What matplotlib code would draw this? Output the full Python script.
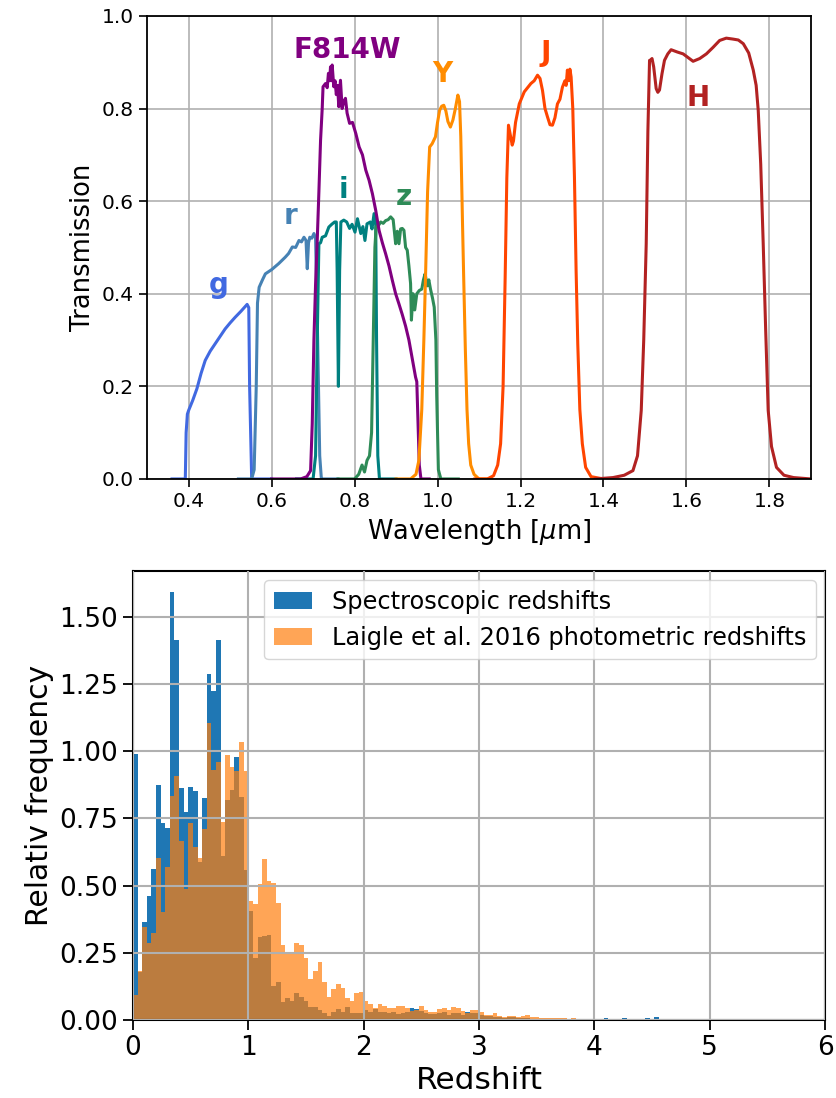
import numpy as np
import matplotlib
matplotlib.use("Agg")
import matplotlib.pyplot as plt

# ---- filter transmission curves (wavelength in micron, transmission) ----
g_wl = [0.36, 0.392, 0.394, 0.397, 0.400, 0.410, 0.420, 0.430, 0.440, 0.452, 0.464, 0.476, 0.488, 0.500, 0.512, 0.526, 0.541, 0.545, 0.547, 0.552, 0.60]
g_tr = [0.0, 0.0, 0.10, 0.14, 0.148, 0.170, 0.195, 0.228, 0.256, 0.276, 0.292, 0.308, 0.324, 0.337, 0.349, 0.362, 0.377, 0.37, 0.20, 0.0, 0.0]

r_wl = [0.52, 0.552, 0.558, 0.563, 0.566, 0.570, 0.578, 0.585, 0.600, 0.617, 0.625, 0.633, 0.641, 0.650, 0.658, 0.666, 0.672, 0.678, 0.683, 0.686, 0.689, 0.692, 0.697, 0.702, 0.706, 0.711, 0.716, 0.720, 0.725, 0.76]
r_tr = [0.0, 0.0, 0.02, 0.20, 0.38, 0.414, 0.43, 0.443, 0.452, 0.465, 0.472, 0.479, 0.487, 0.501, 0.50, 0.515, 0.512, 0.522, 0.515, 0.454, 0.51, 0.522, 0.52, 0.53, 0.52, 0.30, 0.05, 0.0, 0.0, 0.0]

i_wl = [0.66, 0.700, 0.706, 0.710, 0.714, 0.718, 0.722, 0.730, 0.738, 0.745, 0.752, 0.756, 0.758, 0.761, 0.764, 0.767, 0.774, 0.781, 0.788, 0.794, 0.801, 0.807, 0.815, 0.820, 0.825, 0.830, 0.838, 0.842, 0.847, 0.851, 0.853, 0.856, 0.860, 0.90]
i_tr = [0.0, 0.0, 0.05, 0.30, 0.508, 0.51, 0.522, 0.525, 0.544, 0.55, 0.555, 0.555, 0.45, 0.20, 0.45, 0.555, 0.559, 0.555, 0.541, 0.55, 0.533, 0.562, 0.53, 0.545, 0.515, 0.551, 0.555, 0.54, 0.573, 0.55, 0.30, 0.05, 0.0, 0.0]

z_wl = [0.76, 0.800, 0.810, 0.818, 0.824, 0.830, 0.836, 0.841, 0.845, 0.849, 0.852, 0.858, 0.863, 0.869, 0.875, 0.881, 0.887, 0.893, 0.899, 0.903, 0.907, 0.911, 0.915, 0.919, 0.923, 0.927, 0.931, 0.935, 0.937, 0.941, 0.945, 0.950, 0.956, 0.962, 0.966, 0.970, 0.975, 0.979, 0.983, 0.988, 0.992, 0.996, 0.998, 1.002, 1.008, 1.05]
z_tr = [0.0, 0.0, 0.01, 0.03, 0.015, 0.04, 0.05, 0.10, 0.30, 0.50, 0.544, 0.548, 0.555, 0.552, 0.558, 0.56, 0.566, 0.560, 0.508, 0.535, 0.508, 0.54, 0.541, 0.537, 0.50, 0.494, 0.46, 0.422, 0.343, 0.40, 0.365, 0.40, 0.407, 0.41, 0.43, 0.443, 0.417, 0.43, 0.41, 0.39, 0.371, 0.30, 0.18, 0.02, 0.0, 0.0]

f814_wl = [0.60, 0.670, 0.685, 0.694, 0.698, 0.702, 0.706, 0.710, 0.714, 0.718, 0.722, 0.724, 0.730, 0.734, 0.737, 0.740, 0.742, 0.744, 0.746, 0.748, 0.750, 0.753, 0.756, 0.759, 0.762, 0.766, 0.770, 0.774, 0.778, 0.782, 0.788, 0.795, 0.803, 0.811, 0.819, 0.827, 0.835, 0.843, 0.851, 0.859, 0.867, 0.875, 0.883, 0.891, 0.899, 0.907, 0.915, 0.923, 0.931, 0.939, 0.947, 0.950, 0.953, 0.956, 0.960, 0.98]
f814_tr = [0.0, 0.0, 0.005, 0.018, 0.12, 0.30, 0.42, 0.515, 0.62, 0.731, 0.80, 0.847, 0.854, 0.845, 0.876, 0.86, 0.89, 0.86, 0.894, 0.87, 0.847, 0.86, 0.83, 0.85, 0.804, 0.861, 0.80, 0.815, 0.822, 0.79, 0.768, 0.77, 0.746, 0.717, 0.70, 0.667, 0.645, 0.616, 0.58, 0.537, 0.51, 0.486, 0.46, 0.429, 0.40, 0.378, 0.355, 0.33, 0.30, 0.26, 0.22, 0.21, 0.12, 0.03, 0.0, 0.0]

y_wl = [0.90, 0.935, 0.948, 0.955, 0.962, 0.967, 0.971, 0.976, 0.981, 0.987, 0.995, 1.000, 1.005, 1.010, 1.015, 1.020, 1.025, 1.031, 1.037, 1.043, 1.049, 1.053, 1.056, 1.060, 1.063, 1.067, 1.071, 1.075, 1.080, 1.088, 1.10, 1.13]
y_tr = [0.0, 0.0, 0.01, 0.04, 0.15, 0.30, 0.436, 0.62, 0.717, 0.724, 0.739, 0.77, 0.796, 0.805, 0.807, 0.795, 0.772, 0.760, 0.775, 0.80, 0.829, 0.815, 0.74, 0.56, 0.436, 0.28, 0.15, 0.076, 0.03, 0.01, 0.0, 0.0]

j_wl = [1.09, 1.120, 1.135, 1.145, 1.152, 1.158, 1.163, 1.167, 1.171, 1.176, 1.180, 1.183, 1.188, 1.197, 1.209, 1.217, 1.225, 1.233, 1.241, 1.247, 1.253, 1.259, 1.265, 1.271, 1.277, 1.283, 1.289, 1.295, 1.301, 1.307, 1.310, 1.313, 1.316, 1.319, 1.322, 1.326, 1.330, 1.334, 1.338, 1.343, 1.349, 1.357, 1.37, 1.40]
j_tr = [0.0, 0.0, 0.007, 0.03, 0.076, 0.20, 0.436, 0.65, 0.764, 0.74, 0.721, 0.73, 0.77, 0.81, 0.836, 0.845, 0.854, 0.86, 0.872, 0.865, 0.839, 0.80, 0.782, 0.765, 0.764, 0.78, 0.81, 0.82, 0.846, 0.86, 0.85, 0.883, 0.86, 0.885, 0.868, 0.80, 0.652, 0.45, 0.292, 0.15, 0.076, 0.025, 0.005, 0.0]

h_wl = [1.38, 1.423, 1.450, 1.471, 1.482, 1.491, 1.497, 1.503, 1.507, 1.511, 1.514, 1.517, 1.521, 1.527, 1.531, 1.535, 1.541, 1.547, 1.555, 1.563, 1.578, 1.592, 1.604, 1.616, 1.632, 1.648, 1.664, 1.680, 1.696, 1.712, 1.725, 1.737, 1.750, 1.761, 1.768, 1.773, 1.779, 1.785, 1.791, 1.797, 1.805, 1.817, 1.835, 1.858, 1.90]
h_tr = [0.0, 0.003, 0.008, 0.018, 0.05, 0.148, 0.30, 0.508, 0.75, 0.904, 0.905, 0.908, 0.89, 0.843, 0.835, 0.84, 0.875, 0.904, 0.918, 0.927, 0.922, 0.918, 0.91, 0.902, 0.908, 0.918, 0.932, 0.947, 0.952, 0.95, 0.948, 0.94, 0.92, 0.883, 0.85, 0.796, 0.68, 0.508, 0.32, 0.148, 0.07, 0.025, 0.008, 0.003, 0.0]

filter_names = ["g", "r", "i", "z", "F814W", "Y", "J", "H"]
filter_colors = ["royalblue", "steelblue", "teal", "seagreen", "purple", "darkorange", "orangered", "firebrick"]
label_x = [0.472, 0.646, 0.772, 0.920, 0.782, 1.011, 1.260, 1.627]
label_y = [0.418, 0.567, 0.623, 0.610, 0.926, 0.874, 0.921, 0.822]

# ---- redshift histograms, bin width 0.04 starting at 0 ----
spec_freq = [0.99, 0.18, 0.366, 0.461, 0.562, 0.874, 0.734, 0.715, 1.592, 1.413,
             0.863, 0.773, 0.866, 0.852, 0.589, 0.826, 1.287, 1.224, 1.413, 0.61,
             0.818, 0.855, 0.978, 0.829, 0.558, 0.405, 0.232, 0.31, 0.312, 0.316,
             0.126, 0.143, 0.068, 0.083, 0.072, 0.099, 0.087, 0.072, 0.047, 0.05,
             0.037, 0.025, 0.015, 0.03, 0.04, 0.031, 0.05, 0.025, 0.025, 0.025,
             0.037, 0.03, 0.04, 0.03, 0.03, 0.025, 0.03, 0.022, 0.025, 0.03,
             0.043, 0.04, 0.035, 0.025, 0.022, 0.022, 0.028, 0.03, 0.02, 0.025,
             0.025, 0.02, 0.03, 0.025, 0.025, 0.02, 0.015, 0.015, 0.012, 0.01,
             0.008, 0.01, 0.012, 0.008, 0.007, 0.006, 0.005, 0.004, 0.004, 0.003,
             0.003, 0.003, 0.002, 0.002, 0.002, 0.003, 0.002, 0.002, 0.0, 0.0,
             0.0, 0.0, 0.009, 0.0, 0.0, 0.0, 0.007, 0.0, 0.0, 0.0,
             0.0, 0.006, 0.0, 0.011]
phot_freq = [0.093, 0.183, 0.347, 0.288, 0.322, 0.604, 0.403, 0.570, 0.833, 0.907,
             0.666, 0.487, 0.731, 0.645, 0.604, 0.712, 1.103, 0.93, 0.959, 0.735,
             0.986, 0.94, 0.926, 1.034, 0.926, 0.443, 0.431, 0.506, 0.599, 0.517,
             0.508, 0.436, 0.279, 0.254, 0.254, 0.288, 0.279, 0.229, 0.154, 0.182,
             0.217, 0.143, 0.087, 0.115, 0.133, 0.121, 0.081, 0.072, 0.099, 0.105,
             0.072, 0.06, 0.043, 0.06, 0.052, 0.043, 0.043, 0.052, 0.052, 0.043,
             0.034, 0.037, 0.052, 0.037, 0.03, 0.03, 0.04, 0.045, 0.037, 0.048,
             0.045, 0.033, 0.025, 0.037, 0.037, 0.03, 0.019, 0.019, 0.026, 0.015,
             0.012, 0.016, 0.014, 0.012, 0.016, 0.018, 0.013, 0.01, 0.009, 0.008,
             0.007, 0.008, 0.006, 0.006, 0.005, 0.006, 0.005, 0.004]
BIN_WIDTH = 0.04

fig = plt.figure(figsize=(8.36, 10.98), dpi=100)

# Top panel: filter curves
ax1 = fig.add_axes([0.176, 0.5638, 0.794, 0.4217])
curves = [(g_wl, g_tr), (r_wl, r_tr), (i_wl, i_tr), (z_wl, z_tr),
          (f814_wl, f814_tr), (y_wl, y_tr), (j_wl, j_tr), (h_wl, h_tr)]
for (wl, tr), name, col, lx, ly in zip(curves, filter_names, filter_colors, label_x, label_y):
    ax1.plot(wl, tr, color=col, lw=2.2)
    ax1.text(lx, ly, name, color=col, fontsize=20, fontweight="bold", ha="center", va="center")
ax1.set_xlim(0.3, 1.9)
ax1.set_ylim(0, 1)
ax1.set_xlabel(r"Wavelength [$\mu$m]", fontsize=18.5)
ax1.set_ylabel("Transmission", fontsize=18.5)
ax1.tick_params(labelsize=14.5, length=6, width=1.2)
ax1.grid(True, color="#b0b0b0", lw=1.2)
for s in ax1.spines.values():
    s.set_linewidth(1.3)

# Bottom panel: redshift distributions
ax2 = fig.add_axes([0.159, 0.0710, 0.828, 0.4094])
edges_spec = np.arange(len(spec_freq) + 1) * BIN_WIDTH
edges_phot = np.arange(len(phot_freq) + 1) * BIN_WIDTH
ax2.hist(edges_spec[:-1], bins=edges_spec, weights=spec_freq, color="tab:blue",
         label="Spectroscopic redshifts")
ax2.hist(edges_phot[:-1], bins=edges_phot, weights=phot_freq, color="tab:orange", alpha=0.7,
         label="Laigle et al. 2016 photometric redshifts")
ax2.set_xlim(0, 6)
ax2.set_xlabel("Redshift", fontsize=22.5)
ax2.set_ylabel("Relativ frequency", fontsize=21.5)
ax2.tick_params(labelsize=19, length=7, width=1.3)
ax2.grid(True, color="#b0b0b0", lw=1.5)
ax2.set_axisbelow(False)
for s in ax2.spines.values():
    s.set_linewidth(1.5)
ax2.legend(loc="upper right", fontsize=17.3, handlelength=1.6, borderaxespad=0.4)

fig.savefig("out.png", dpi=100)
